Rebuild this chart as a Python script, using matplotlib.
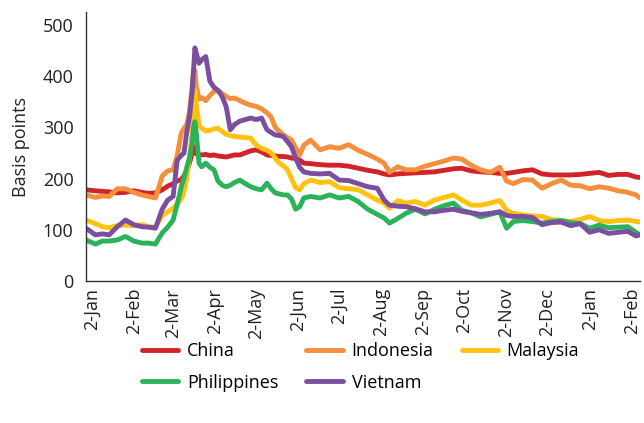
import matplotlib
matplotlib.use("Agg")
import matplotlib.pyplot as plt
import pandas as pd

plt.rcParams['font.family'] = ['Open Sans', 'DejaVu Sans']

dates = pd.to_datetime([
    "2019-12-29", "2020-01-05", "2020-01-10", "2020-01-15", "2020-01-21", "2020-01-27",
    "2020-02-02", "2020-02-08", "2020-02-13", "2020-02-18", "2020-02-23", "2020-02-27",
    "2020-03-02", "2020-03-05", "2020-03-08", "2020-03-10", "2020-03-12", "2020-03-14",
    "2020-03-16", "2020-03-17", "2020-03-18", "2020-03-19", "2020-03-21", "2020-03-23",
    "2020-03-26", "2020-03-29", "2020-04-01", "2020-04-04", "2020-04-07", "2020-04-10",
    "2020-04-13", "2020-04-16", "2020-04-20", "2020-04-24", "2020-04-28", "2020-05-02",
    "2020-05-06", "2020-05-10", "2020-05-13", "2020-05-16", "2020-05-19", "2020-05-22",
    "2020-05-25", "2020-05-28", "2020-05-31", "2020-06-03", "2020-06-06", "2020-06-11",
    "2020-06-18", "2020-06-25", "2020-07-02", "2020-07-09", "2020-07-16", "2020-07-23",
    "2020-07-30", "2020-08-04", "2020-08-08", "2020-08-14", "2020-08-20", "2020-08-27",
    "2020-09-03", "2020-09-10", "2020-09-17", "2020-09-24", "2020-09-30", "2020-10-07",
    "2020-10-14", "2020-10-21", "2020-10-28", "2020-11-02", "2020-11-07", "2020-11-14",
    "2020-11-21", "2020-11-28", "2020-12-05", "2020-12-12", "2020-12-19", "2020-12-26",
    "2021-01-02", "2021-01-09", "2021-01-16", "2021-01-23", "2021-01-30", "2021-02-05",
    "2021-02-08",
])

china = [
    178, 176, 175, 174, 172, 173, 176, 173, 171, 172, 178, 185,
    190, 195, 198, 205, 215, 230, 250, 262, 255, 248, 247, 246,
    247, 245, 246, 244, 243, 242, 244, 246, 246, 250, 254, 256,
    252, 246, 245, 244, 243, 243, 242, 240, 239, 236, 230, 229,
    227, 226, 226, 224, 220, 216, 213, 209, 207, 209, 210, 211,
    212, 213, 216, 219, 220, 215, 213, 212, 210, 210, 212, 215,
    217, 209, 207, 207, 207, 208, 210, 212, 206, 208, 208, 203,
    202,
]
indonesia = [
    168, 163, 166, 165, 180, 180, 173, 168, 165, 162, 205, 215,
    217, 245, 289, 298, 305, 330, 380, 415, 410, 380, 355, 358,
    352, 362, 370, 372, 366, 360, 356, 357, 352, 347, 343, 341,
    336, 328, 320, 300, 292, 285, 280, 275, 260, 246, 265, 275,
    256, 262, 259, 266, 255, 247, 238, 230, 212, 223, 217, 217,
    224, 229, 234, 240, 238, 226, 217, 212, 222, 195, 190, 198,
    197, 181, 190, 197, 187, 186, 180, 184, 181, 176, 173, 168,
    162,
]
malaysia = [
    119, 112, 106, 104, 108, 109, 108, 110, 106, 105, 128, 135,
    142, 150, 160, 175, 200, 240, 290, 330, 373, 345, 305, 298,
    293, 294, 297, 298, 292, 286, 284, 282, 281, 280, 279, 265,
    259, 255, 250, 240, 230, 225, 217, 200, 182, 178, 190, 197,
    192, 194, 182, 180, 178, 168, 158, 152, 142, 157, 152, 155,
    148, 158, 163, 168, 158, 148, 148, 152, 157, 138, 132, 129,
    127, 126, 120, 118, 116, 120, 126, 118, 116, 118, 119, 116,
    115,
]
philippines = [
    80, 72, 78, 78, 80, 87, 78, 74, 74, 72, 94, 105,
    119, 150, 184, 200, 222, 240, 270, 300, 311, 290, 230, 223,
    230, 222, 217, 195, 187, 184, 187, 192, 197, 190, 184, 180,
    178, 191, 180, 172, 170, 168, 168, 160, 140, 145, 162, 165,
    162, 168, 162, 165, 155, 140, 130, 123, 113, 122, 132, 140,
    131, 140, 147, 152, 138, 133, 125, 130, 135, 103, 116, 118,
    116, 113, 116, 118, 114, 112, 103, 109, 104, 105, 106, 95,
    90,
]
vietnam = [
    103, 90, 92, 90, 106, 119, 110, 106, 105, 103, 140, 158,
    165, 236, 245, 250, 290, 320, 370, 410, 455, 445, 425, 432,
    438, 390, 378, 372, 360, 340, 295, 305, 312, 315, 318, 315,
    318, 295, 290, 285, 284, 282, 272, 262, 240, 222, 213, 210,
    209, 210, 197, 196, 190, 184, 181, 158, 148, 146, 145, 141,
    135, 135, 138, 140, 136, 133, 130, 132, 135, 128, 126, 126,
    124, 110, 114, 115, 108, 112, 95, 100, 93, 95, 97, 88,
    90,
]

names = ["China", "Indonesia", "Malaysia", "Philippines", "Vietnam"]
colors = ["#D2232A", "#F58F3E", "#FFC20E", "#2BB35A", "#7B4EA0"]
series = [china, indonesia, malaysia, philippines, vietnam]

fig = plt.figure(figsize=(6.44, 4.23), dpi=100)
ax = fig.add_axes([86 / 644, 1 - 281 / 423, 554 / 644, 269 / 423])

lines = {}
for name, vals, c in zip(names, series, colors):
    lines[name], = ax.plot(dates, vals, color=c, lw=3.5, label=name,
                           solid_capstyle='round')

ax.set_xlim(dates[0], dates[-1])
ax.set_ylim(0, 525)
ax.set_yticks([0, 100, 200, 300, 400, 500])

ticks = pd.date_range("2020-01-02", "2021-02-02", freq=pd.DateOffset(months=1))
ax.set_xticks(ticks)
ax.set_xticklabels([f"2-{t.strftime('%b')}" for t in ticks], rotation=90)
ax.tick_params(axis='y', length=0, pad=9, labelsize=13, colors='#222222')
ax.tick_params(axis='x', length=0, pad=5, labelsize=13, colors='#222222')

for s in ['top', 'right']:
    ax.spines[s].set_visible(False)
for s in ['left', 'bottom']:
    ax.spines[s].set_color('#333333')
    ax.spines[s].set_linewidth(1.0)

ax.set_ylabel("Basis points", fontsize=13, color='#222222', labelpad=9)

# legend fills column by column, so order entries to read row-wise
order = ["China", "Philippines", "Indonesia", "Vietnam", "Malaysia"]
ax.legend([lines[n] for n in order], order,
          loc='upper left', bbox_to_anchor=(0.088, -0.20), ncol=3, frameon=False,
          fontsize=13, handlelength=2.0, handletextpad=0.5, columnspacing=1.55,
          labelspacing=0.75, borderaxespad=0)

fig.savefig("out.png", dpi=100)
